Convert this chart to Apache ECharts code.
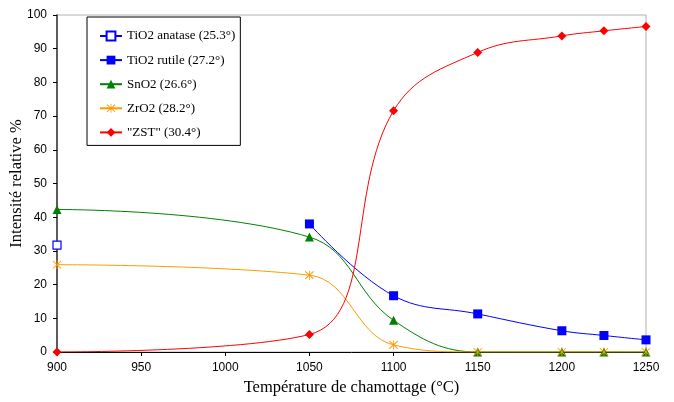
<!DOCTYPE html>
<html>
<head>
<meta charset="utf-8">
<script src="https://cdn.jsdelivr.net/npm/echarts@6/dist/echarts.min.js"></script>
<style>html,body{margin:0;padding:0;background:#fff}#c{width:674px;height:402px}</style>
</head>
<body>
<div id="c"></div>
<script>
// Data
const temperatures = [900, 1050, 1100, 1150, 1200, 1225, 1250];
const anataseX = [900];
const anataseY = [31.7];
const rutileX = [1050, 1100, 1150, 1200, 1225, 1250];
const rutileY = [38.0, 16.7, 11.3, 6.3, 4.9, 3.6];
const sno2Y = [42.3, 34.1, 9.4, 0, 0, 0, 0];
const zro2Y = [25.9, 22.8, 2.1, 0, 0, 0, 0];
const zstY = [0, 5.2, 71.6, 88.9, 93.8, 95.3, 96.6];
const seriesNames = ['TiO2 anatase (25.3°)', 'TiO2 rutile (27.2°)', 'SnO2 (26.6°)', 'ZrO2 (28.2°)', '"ZST" (30.4°)'];
const xTitle = 'Température de chamottage (°C)';
const yTitle = 'Intensité relative %';

const pairs = (xs, ys) => xs.map((x, i) => [x, ys[i]]);
const asterisk = 'path://M9.2,0h1.6v20h-1.6z M1,2.4L2.4,1L19,17.6L17.6,19z M17.6,1L19,2.4L2.4,19L1,17.6z';
const SANS = 'Arial, "Liberation Sans", sans-serif';
const SERIF = '"Liberation Serif", "Times New Roman", serif';

const chart = echarts.init(document.getElementById('c'), null, {renderer: 'canvas'});
chart.setOption({
  animation: false,
  backgroundColor: '#fff',
  grid: {left: 57, right: 28, top: 15, bottom: 50, show: true, borderColor: '#b0b0b0', borderWidth: 1,
         containLabel: false, outerBoundsMode: 'none'},
  legend: {
    orient: 'vertical', left: 87, top: 17,
    padding: [12.5, 5, 6.5, 12], itemGap: 11.1, itemWidth: 22, itemHeight: 11,
    backgroundColor: '#fff', borderColor: '#000', borderWidth: 1,
    textStyle: {fontFamily: SERIF, fontSize: 13, color: '#000'},
    data: seriesNames
  },
  xAxis: {
    type: 'value', min: 900, max: 1250, interval: 50,
    name: xTitle, nameLocation: 'middle', nameGap: 27, nameMoveOverlap: false,
    nameTextStyle: {fontFamily: SERIF, fontSize: 16.5, color: '#000'},
    axisLine: {lineStyle: {color: '#000', width: 1}},
    axisTick: {length: 4, lineStyle: {color: '#000'}},
    axisLabel: {fontFamily: SANS, fontSize: 12, color: '#000', margin: 10, formatter: v => String(v)},
    splitLine: {show: false}
  },
  yAxis: {
    type: 'value', min: 0, max: 100, interval: 10,
    name: yTitle, nameLocation: 'middle', nameGap: 32, nameMoveOverlap: false,
    nameTextStyle: {fontFamily: SERIF, fontSize: 16.5, color: '#000'},
    axisLine: {show: true, lineStyle: {color: '#333', width: 1.5}},
    axisTick: {show: true, length: 4, lineStyle: {color: '#000'}},
    axisLabel: {fontFamily: SANS, fontSize: 12, color: '#000', margin: 10, formatter: v => String(v)},
    splitLine: {show: false}
  },
  series: [
    {name: seriesNames[0], type: 'line', data: pairs(anataseX, anataseY), symbol: 'rect', symbolSize: 8,
     itemStyle: {color: '#fff', borderColor: '#0000ff', borderWidth: 1.2}, lineStyle: {color: '#0000ff', width: 1}},
    {name: seriesNames[1], type: 'line', smooth: 0.4, data: pairs(rutileX, rutileY), symbol: 'rect', symbolSize: 9,
     itemStyle: {color: '#0000ff'}, lineStyle: {color: '#0000ff', width: 1}},
    {name: seriesNames[2], type: 'line', smooth: 0.4, data: pairs(temperatures, sno2Y), symbol: 'triangle', symbolSize: 9,
     itemStyle: {color: '#008000'}, lineStyle: {color: '#008000', width: 1}},
    {name: seriesNames[3], type: 'line', smooth: 0.4, data: pairs(temperatures, zro2Y), symbol: asterisk, symbolSize: 9,
     itemStyle: {color: '#ff9900'}, lineStyle: {color: '#ff9900', width: 1}},
    {name: seriesNames[4], type: 'line', smooth: 0.4, data: pairs(temperatures, zstY), symbol: 'diamond', symbolSize: 9,
     itemStyle: {color: '#ff0000'}, lineStyle: {color: '#ff0000', width: 1}}
  ]
});
</script>
</body>
</html>
